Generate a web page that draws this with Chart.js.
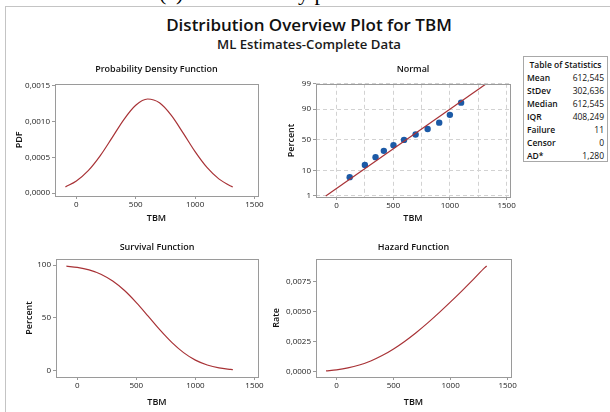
<!DOCTYPE html>
<html>
<head>
<meta charset="utf-8">
<script src="https://cdn.jsdelivr.net/npm/chart.js@4.4.1/dist/chart.umd.min.js"></script>
<style>
  body { margin: 0; width: 610px; height: 412px; background: #fff; position: relative; overflow: hidden; font-family: "Open Sans", sans-serif; color: #111; }
  canvas { position: absolute; }
  #cap { position: absolute; left: 0; top: 0; width: 610px; height: 6px; overflow: hidden; }
  #cap span { position: absolute; top: -18px; font: 22px/22px "Liberation Serif", serif; color: #000; white-space: pre; }
  #frameTop { position: absolute; left: 5px; top: 6px; width: 605px; height: 1px; background: #c4c4c4; }
  #frameLeft { position: absolute; left: 5px; top: 6px; width: 1px; height: 406px; background: #c4c4c4; }
  #title { position: absolute; left: 0; width: 618px; top: 13px; text-align: center; font-size: 17px; font-weight: 600; }
  #sub { position: absolute; left: 0; width: 618px; top: 35px; text-align: center; font-size: 13.2px; font-weight: 600; color: #1a1a1a; }
  #stats { position: absolute; left: 523px; top: 56px; width: 83px; height: 104px; border: 1px solid #a8a8a8; font-size: 8.5px; color: #111; }
  #stats div { position: absolute; left: 3px; right: 3px; height: 13px; line-height: 13px; }
  #stats .th { text-align: center; font-weight: 600; }
  #stats b { font-weight: 600; }
  #stats i { font-style: normal; position: absolute; right: 0; }
</style>
</head>
<body>
<div id="cap"><span style="left:159px">(a)</span><span style="left:298px">y p</span></div>
<div id="frameTop"></div>
<div id="frameLeft"></div>
<div id="title">Distribution Overview Plot for TBM</div>
<div id="sub">ML Estimates-Complete Data</div>
<div id="stats"></div>
<canvas id="pdf" width="262" height="172" style="left:8px;top:58px"></canvas>
<canvas id="normal" width="252" height="172" style="left:268px;top:58px"></canvas>
<canvas id="surv" width="262" height="179" style="left:8px;top:233px"></canvas>
<canvas id="hazard" width="252" height="179" style="left:268px;top:233px"></canvas>
<script>
// fitted curves
const TBM = [-92, 0, 100, 200, 300, 400, 500, 600, 700, 800, 900, 1000, 1100, 1200, 1300, 1317];
const PDF = [0.000088, 0.000170, 0.000314, 0.000521, 0.000773, 0.001030, 0.001230, 0.001317, 0.001264, 0.001088, 0.000840, 0.000581, 0.000360, 0.000200, 0.000100, 0.000088];
const SURVIVAL = [99.0, 97.9, 95.5, 91.4, 84.9, 75.9, 64.5, 51.7, 38.6, 26.8, 17.1, 10.0, 5.4, 2.6, 1.2, 1.0];
const HAZARD = [0.000089, 0.000174, 0.000329, 0.000570, 0.000910, 0.001357, 0.001907, 0.002549, 0.003272, 0.004063, 0.004909, 0.005798, 0.006716, 0.00766, 0.00864, 0.00878];

// probability plot points + fit line
const POINT_TBM = [117, 251, 345, 418, 503, 596, 698, 804, 906, 1000, 1099];
const POINT_PCT = [6.1, 14.9, 23.7, 32.5, 41.2, 50, 58.8, 67.5, 76.3, 85.1, 93.9];
const FIT_TBM = [-94, 1318];
const FIT_PCT = [1, 99];

// ticks
const X_TICKS = [0, 500, 1000, 1500];
const X_GRID = [0, 250, 500, 750, 1000, 1250, 1500];
const PDF_TICKS = [0, 0.0005, 0.0010, 0.0015];
const PCT_TICKS = [1, 10, 50, 90, 99];
const SURV_TICKS = [0, 50, 100];
const RATE_TICKS = [0, 0.0025, 0.0050, 0.0075];

const STAT_LABELS = ["Mean", "StDev", "Median", "IQR", "Failure", "Censor", "AD*"];
const STAT_VALUES = ["612,545", "302,636", "612,545", "408,249", "11", "0", "1,280"];

const FONT = '"Open Sans", sans-serif';
const RED = '#a83236';
const BLUE = '#1c5aa6';
const AXIS = '#9a9a9a';

// stats table
const st = document.getElementById('stats');
st.innerHTML = '<div class="th" style="top:1px">Table of Statistics</div>' +
  STAT_LABELS.map((l, i) => '<div style="top:' + (14 + i * 13) + 'px"><b>' + l + '</b><i>' + STAT_VALUES[i] + '</i></div>').join('');

// inverse normal cdf (Acklam) for the probability axis
function probit(p) {
  const a = [-39.69683028665376, 220.9460984245205, -275.9285104469687, 138.3577518672690, -30.66479806614716, 2.506628277459239];
  const b = [-54.47609879822406, 161.5858368580409, -155.6989798598866, 66.80131188771972, -13.28068155288572];
  const c = [-0.007784894002430293, -0.3223964580411365, -2.400758277161838, -2.549732539343734, 4.374664141464968, 2.938163982698783];
  const d = [0.007784695709041462, 0.3224671290700398, 2.445134137142996, 3.754408661907416];
  const pl = 0.02425;
  let q, r;
  if (p < pl) {
    q = Math.sqrt(-2 * Math.log(p));
    return (((((c[0]*q+c[1])*q+c[2])*q+c[3])*q+c[4])*q+c[5]) / ((((d[0]*q+d[1])*q+d[2])*q+d[3])*q+1);
  }
  if (p > 1 - pl) {
    q = Math.sqrt(-2 * Math.log(1 - p));
    return -(((((c[0]*q+c[1])*q+c[2])*q+c[3])*q+c[4])*q+c[5]) / ((((d[0]*q+d[1])*q+d[2])*q+d[3])*q+1);
  }
  q = p - 0.5; r = q * q;
  return (((((a[0]*r+a[1])*r+a[2])*r+a[3])*r+a[4])*r+a[5])*q / (((((b[0]*r+b[1])*r+b[2])*r+b[3])*r+b[4])*r+1);
}

const frameBox = {
  id: 'frameBox',
  afterDraw(c) {
    const a = c.chartArea, ctx = c.ctx;
    ctx.save();
    ctx.strokeStyle = AXIS;
    ctx.lineWidth = 1;
    ctx.strokeRect(Math.round(a.left) + 0.5, Math.round(a.top) + 0.5, Math.round(a.right - a.left), Math.round(a.bottom - a.top));
    ctx.restore();
  }
};

function curve(xs, ys) {
  return {
    data: xs.map((x, i) => ({x: x, y: ys[i]})),
    showLine: true, borderColor: RED, borderWidth: 1.2, pointRadius: 0,
    cubicInterpolationMode: 'monotone'
  };
}

const comma = (v, n) => v.toFixed(n).replace('.', ',');

function panel(id, o) {
  const tickFont = {family: FONT, size: 8};
  const titleFont = {family: FONT, size: 9, weight: '600'};
  return new Chart(document.getElementById(id), {
    type: 'scatter',
    data: {datasets: o.datasets},
    options: {
      animation: false,
      responsive: false,
      layout: {padding: {right: o.padRight, left: 0, top: 0, bottom: 0}},
      plugins: {
        legend: {display: false},
        tooltip: {enabled: false},
        title: {display: true, text: o.title, fullSize: false, color: '#111', font: titleFont,
                padding: {top: o.titleTop, bottom: o.titleBottom}}
      },
      scales: {
        x: {
          type: 'linear', min: -180, max: 1530,
          afterFit: s => { s.height = o.xHeight; },
          afterBuildTicks: s => { s.ticks = (o.grid ? X_GRID : X_TICKS).map(v => ({value: v})); },
          ticks: {font: tickFont, color: '#222', padding: 1, maxRotation: 0,
                  callback: v => (v % 500 === 0 ? String(v) : '')},
          grid: {drawOnChartArea: !!o.grid, color: '#d2d2d2', tickLength: 3, tickBorderDash: [1, 0],
                 tickColor: c => (c.tick && c.tick.value % 500 === 0 ? AXIS : 'rgba(0,0,0,0)')},
          border: {display: false, dash: [4, 3]},
          title: {display: true, text: 'TBM', color: '#111', font: titleFont, padding: {top: 0, bottom: o.xTitlePad}}
        },
        y: {
          type: 'linear', min: o.yMin, max: o.yMax,
          afterFit: s => { s.width = o.yWidth; },
          afterBuildTicks: s => { s.ticks = o.yTicks.map(v => ({value: v})); },
          ticks: {font: tickFont, color: '#222', padding: 2, callback: o.yLabel},
          grid: {drawOnChartArea: !!o.grid, color: '#d2d2d2', tickLength: 3, tickColor: AXIS, tickBorderDash: [1, 0]},
          border: {display: false, dash: [4, 3]},
          title: {display: true, text: o.yTitle, color: '#111', font: titleFont, padding: {top: o.yTitlePad, bottom: 0}}
        }
      }
    },
    plugins: [frameBox]
  });
}

panel('pdf', {
  title: 'Probability Density Function', titleTop: 6, titleBottom: 9,
  datasets: [curve(TBM, PDF)],
  yMin: -0.00004, yMax: 0.00153, yTicks: PDF_TICKS, yLabel: v => comma(v, 4),
  yTitle: 'PDF', yWidth: 47, yTitlePad: 6, xHeight: 34, xTitlePad: 6, padRight: 12
});

const zTicks = PCT_TICKS.map(p => probit(p / 100));
panel('normal', {
  title: 'Normal', titleTop: 6, titleBottom: 9, grid: true,
  datasets: [
    Object.assign(curve(FIT_TBM, FIT_PCT.map(p => probit(p / 100))), {cubicInterpolationMode: 'default', tension: 0}),
    {data: POINT_TBM.map((x, i) => ({x: x, y: probit(POINT_PCT[i] / 100)})),
     pointRadius: 3.2, pointBackgroundColor: BLUE, pointBorderColor: BLUE, pointBorderWidth: 0}
  ],
  yMin: -2.37, yMax: 2.33, yTicks: zTicks, yLabel: (v, i) => String(PCT_TICKS[i]),
  yTitle: 'Percent', yWidth: 48, yTitlePad: 18, xHeight: 33, xTitlePad: 6, padRight: 10
});

panel('surv', {
  title: 'Survival Function', titleTop: 9, titleBottom: 6,
  datasets: [curve(TBM, SURVIVAL)],
  yMin: -6, yMax: 106, yTicks: SURV_TICKS, yLabel: v => String(v),
  yTitle: 'Percent', yWidth: 48, yTitlePad: 16, xHeight: 35, xTitlePad: 4, padRight: 12
});

panel('hazard', {
  title: 'Hazard Function', titleTop: 9, titleBottom: 6,
  datasets: [curve(TBM, HAZARD)],
  yMin: -0.00042, yMax: 0.00937, yTicks: RATE_TICKS, yLabel: v => comma(v, 4),
  yTitle: 'Rate', yWidth: 48, yTitlePad: 3, xHeight: 35, xTitlePad: 4, padRight: 9
});
</script>
</body>
</html>
